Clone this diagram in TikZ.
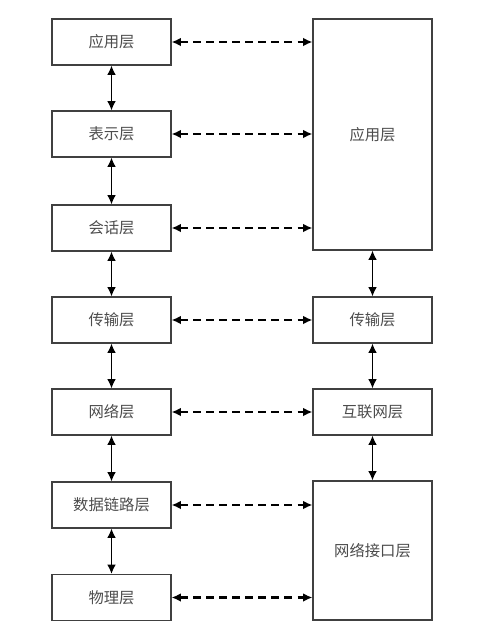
\documentclass[tikz,border=0pt]{standalone}
\usepackage{fontspec}
\newfontfamily\cjk{Noto Sans CJK SC}
\usetikzlibrary{arrows.meta}
\begin{document}
\begin{tikzpicture}[x=0.75pt,y=-0.75pt,
  box/.style={draw=black!75, line width=0.8pt, minimum width=89.25pt, minimum height=34.5pt,
    inner sep=0pt, font=\cjk\fontsize{11.5}{13}\selectfont, text=black!70},
  link/.style={{Latex[length=7pt,width=6.5pt]}-{Latex[length=7pt,width=6.5pt]}, line width=1.1pt},
  peer/.style={{Latex[length=7pt,width=6.5pt]}-{Latex[length=7pt,width=6.5pt]}, line width=1.6pt, dash pattern=on 6pt off 3.8pt}]
\useasboundingbox (0,0) rectangle (483,633);
% left stack
\node[box] (lA) at (111.5,42) {应用层};
\node[box] (lP) at (111.5,134) {表示层};
\node[box] (lS) at (111.5,228) {会话层};
\node[box] (lT) at (111.5,320) {传输层};
\node[box] (lN) at (111.5,412) {网络层};
\node[box] (lD) at (111.5,505) {数据链路层};
\node[box] (lH) at (111.5,597.5) {物理层};
% right stack
\node[box, minimum height=173.25pt] (rA) at (372.5,134.5) {应用层};
\node[box] (rT) at (372.5,320) {传输层};
\node[box] (rI) at (372.5,412) {互联网层};
\node[box, minimum height=104.25pt] (rN) at (372.5,550.5) {网络接口层};
% vertical links
\draw[link] (lA.south) -- (lP.north);
\draw[link] (lP.south) -- (lS.north);
\draw[link] (lS.south) -- (lT.north);
\draw[link] (lT.south) -- (lN.north);
\draw[link] (lN.south) -- (lD.north);
\draw[link] (lD.south) -- (lH.north);
\draw[link] (rA.south) -- (rT.north);
\draw[link] (rT.south) -- (rI.north);
\draw[link] (rI.south) -- (rN.north);
% peer links
\draw[peer] (lA.east) -- (lA.east -| rA.west);
\draw[peer] (lP.east) -- (lP.east -| rA.west);
\draw[peer] (lS.east) -- (lS.east -| rA.west);
\draw[peer] (lT.east) -- (rT.west);
\draw[peer] (lN.east) -- (rI.west);
\draw[peer] (lD.east) -- (lD.east -| rN.west);
\draw[peer] (lH.east) -- (lH.east -| rN.west);
\end{tikzpicture}
\end{document}
